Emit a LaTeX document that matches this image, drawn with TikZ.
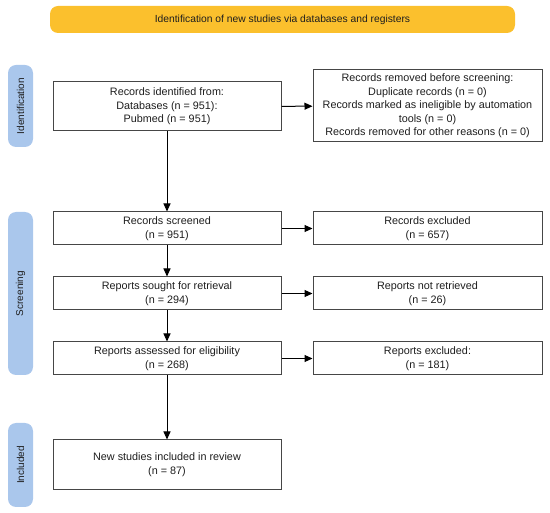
\documentclass[tikz,border=0pt]{standalone}
\usepackage{fontspec}
\setmainfont{Liberation Sans}
\usetikzlibrary{arrows.meta}
\definecolor{banner}{RGB}{251,192,45}
\definecolor{phase}{RGB}{170,199,236}
\definecolor{edge}{RGB}{70,70,70}
\definecolor{txt}{RGB}{30,30,30}
\begin{document}
\begin{tikzpicture}[x=1pt,y=-1pt,
  box/.style={draw=edge,line width=1pt,fill=white,align=center,text=txt,font=\fontsize{10.8}{13.6}\selectfont,inner sep=0pt},
  phasebox/.style={fill=phase,rounded corners=8pt,inner sep=0pt},
  phasetext/.style={rotate=90,text=txt,font=\fontsize{10}{12}\selectfont},
  arr/.style={-{Triangle[length=8pt,width=7pt]},line width=1pt,draw=black}]
\useasboundingbox (0,0) rectangle (550,513);
% banner
\node[fill=banner,rounded corners=8pt,minimum width=465pt,minimum height=27pt,inner sep=0pt,text=txt,font=\fontsize{10.3}{12}\selectfont] (ban) at (282.5,19.5) {Identification of new studies via databases and registers};
% phase labels
\node[phasebox,minimum width=25pt,minimum height=82pt] (pid) at (20.5,106) {};
\node[phasetext] (tid) at (pid.center) {Identification};
\node[phasebox,minimum width=25pt,minimum height=163pt] (psc) at (20.5,293.5) {};
\node[phasetext] (tsc) at (psc.center) {Screening};
\node[phasebox,minimum width=25pt,minimum height=84pt] (pin) at (20.5,465) {};
\node[phasetext] (tin) at (pin.center) {Included};
% main boxes
\node[box,minimum width=228pt,minimum height=49pt] (b1) at (167,106.5) {Records identified from:\\Databases (n = 951):\\Pubmed (n = 951)};
\node[box,minimum width=229pt,minimum height=72pt] (r1) at (427.5,106) {Records removed before screening:\\Duplicate records (n = 0)\\Records marked as ineligible by automation\\tools (n = 0)\\Records removed for other reasons (n = 0)};
\node[box,minimum width=228pt,minimum height=33pt] (b2) at (167,228.5) {Records screened\\(n = 951)};
\node[box,minimum width=229pt,minimum height=33pt] (r2) at (427.5,228.5) {Records excluded\\(n = 657)};
\node[box,minimum width=228pt,minimum height=33pt] (b3) at (167,293.5) {Reports sought for retrieval\\(n = 294)};
\node[box,minimum width=229pt,minimum height=33pt] (r3) at (427.5,293.5) {Reports not retrieved\\(n = 26)};
\node[box,minimum width=228pt,minimum height=33pt] (b4) at (167,358.5) {Reports assessed for eligibility\\(n = 268)};
\node[box,minimum width=229pt,minimum height=33pt] (r4) at (427.5,358.5) {Reports excluded:\\(n = 181)};
\node[box,minimum width=228pt,minimum height=50pt] (b5) at (167,465) {New studies included in review\\(n = 87)};
% arrows
\draw[arr] (b1) -- (r1);
\draw[arr] (b2) -- (r2);
\draw[arr] (b3) -- (r3);
\draw[arr] (b4) -- (r4);
\draw[arr] (b1) -- (b2);
\draw[arr] (b2) -- (b3);
\draw[arr] (b3) -- (b4);
\draw[arr] (b4) -- (b5);
\end{tikzpicture}
\end{document}
